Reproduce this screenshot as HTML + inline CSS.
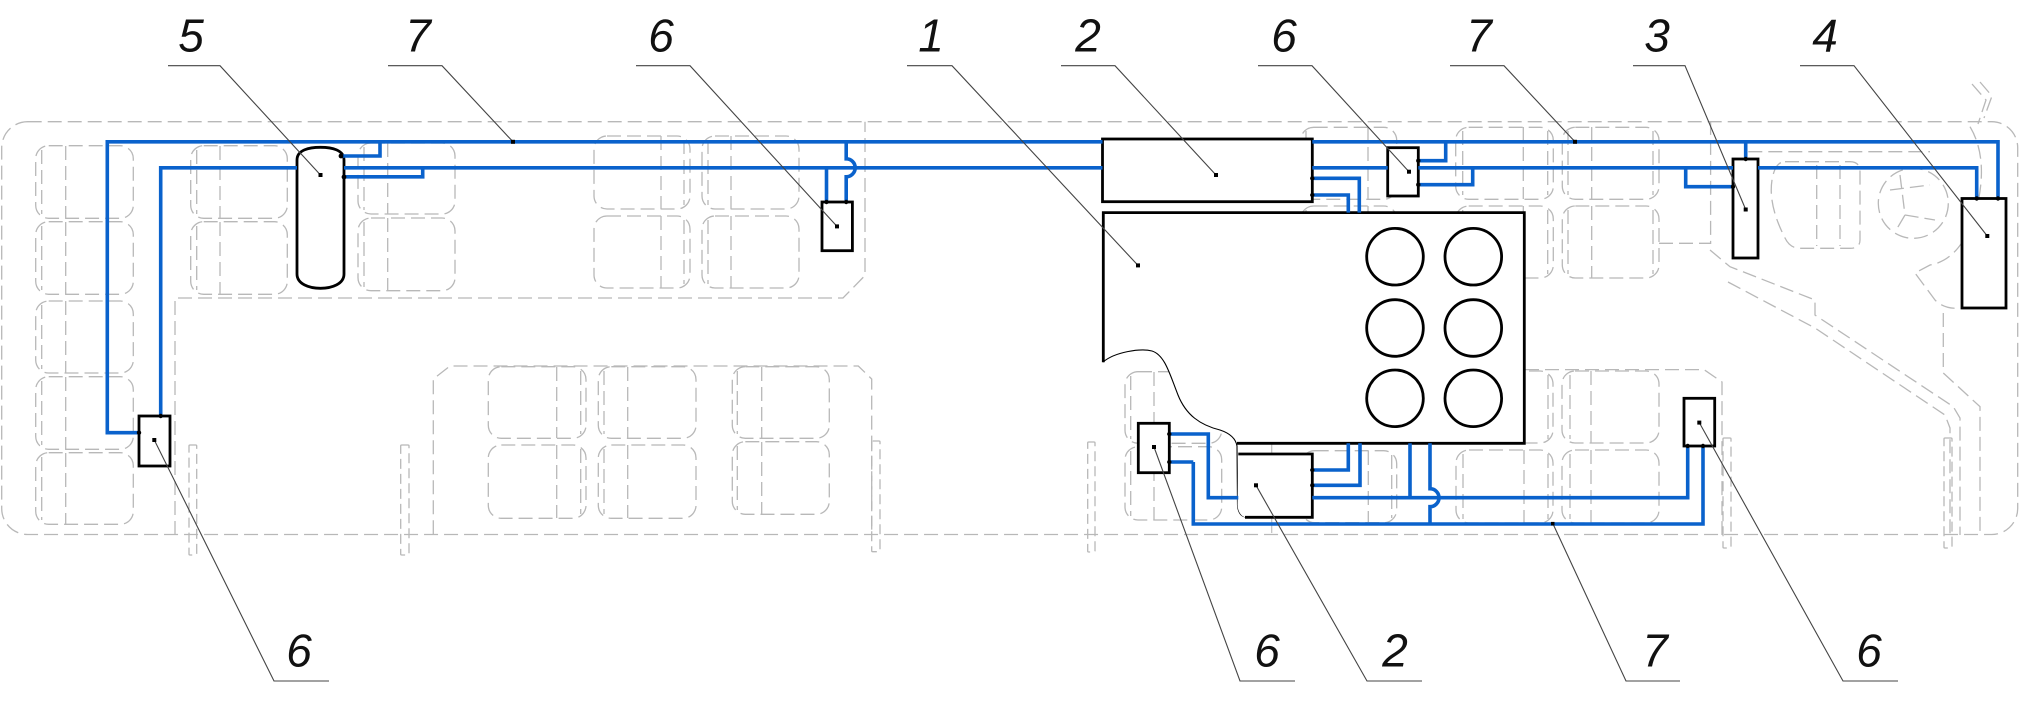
<!DOCTYPE html>
<html><head><meta charset="utf-8"><style>
html,body{margin:0;padding:0;background:#fff;}
svg{display:block;}
.g{fill:none;stroke:#b8b8b8;stroke-width:1.3;stroke-dasharray:14 6;}
.gs{fill:none;stroke:#c0c0c0;stroke-width:1.2;}
.b{fill:none;stroke:#0a62cc;stroke-width:3.6;stroke-linejoin:miter;}
.k{fill:#fff;stroke:#000;stroke-width:2.8;}
.kn{fill:none;stroke:#000;stroke-width:2.8;}
.ld{fill:none;stroke:#444;stroke-width:1.1;}
.t{font-family:"Liberation Sans",sans-serif;font-style:italic;font-size:46px;fill:#111;text-anchor:middle;}
</style></head><body>
<svg width="2020" height="720" viewBox="0 0 2020 720" xmlns="http://www.w3.org/2000/svg">
<rect width="2020" height="720" fill="#fff"/>
<!-- gray bus body -->
<g>
<rect class="g" x="1.7" y="121.7" width="2016" height="412.8" rx="26" ry="26"/>
<path class="g" d="M175,535 V298 H843 L865,275.5 V121.7"/>
<path class="g" d="M433.3,534.3 V379 L450,366 H858.3 L871.7,379 V534.3"/>
<path class="g" d="M1659,243.3 H1710.6 V121.7"/>
<path class="g" d="M1525,369.6 H1704 L1722,382 V535"/>
<!-- seats -->
<g class="g">
<rect x="35.7" y="145.7" width="97.6" height="72.6" rx="13"/>
<rect x="35.7" y="221.7" width="97.6" height="72.6" rx="13"/>
<rect x="35.7" y="301" width="97.6" height="72" rx="13"/>
<rect x="35.7" y="376.7" width="97.6" height="72.6" rx="13"/>
<rect x="35.7" y="452.7" width="97.6" height="71.6" rx="13"/>
<path d="M41.7,150 V214 M65.7,146 V218 M41.7,226 V290 M65.7,222 V294 M41.7,305 V369 M65.7,301 V373 M41.7,381 V445 M65.7,377 V449 M41.7,457 V520 M65.7,453 V524"/>
<rect x="190.7" y="145.7" width="96.6" height="72.6" rx="13"/>
<rect x="190.7" y="221.7" width="96.6" height="72.6" rx="13"/>
<path d="M196.7,150 V214 M220,146 V218 M196.7,226 V290 M220,222 V294"/>
<rect x="358" y="143" width="97" height="71" rx="13"/>
<rect x="358" y="218" width="97" height="72.7" rx="13"/>
<path d="M364,147 V210 M387.7,143 V214 M364,222 V287 M387.7,218 V290"/>
<rect x="594" y="136" width="96" height="73" rx="13"/>
<rect x="594" y="216" width="96" height="72" rx="13"/>
<path d="M661,136 V209 M684,140 V205 M661,216 V288 M684,220 V284"/>
<rect x="702" y="136" width="97" height="73" rx="13"/>
<rect x="702" y="216" width="97" height="72" rx="13"/>
<path d="M708,140 V205 M731,136 V209 M708,220 V284 M731,216 V288"/>
<rect x="488.3" y="366.7" width="97.7" height="71.6" rx="13"/>
<rect x="488.3" y="445" width="97.7" height="73.3" rx="13"/>
<path d="M556.7,367 V438 M580.7,371 V434 M556.7,445 V518 M580.7,449 V514"/>
<rect x="598.3" y="366.7" width="97.7" height="71.6" rx="13"/>
<rect x="598.3" y="445" width="97.7" height="73.3" rx="13"/>
<path d="M604,371 V434 M627.7,367 V438 M604,449 V514 M627.7,445 V518"/>
<rect x="732.3" y="366.7" width="97" height="71.6" rx="13"/>
<rect x="732.3" y="441.7" width="97" height="72.6" rx="13"/>
<path d="M737.3,371 V434 M761.7,367 V438 M737.3,446 V510 M761.7,442 V514"/>
<rect x="1125" y="371.7" width="96.7" height="71.6" rx="13"/>
<rect x="1125" y="446.7" width="96.7" height="73.3" rx="13"/>
<path d="M1130.7,376 V439 M1154,372 V443 M1130.7,451 V516 M1154,447 V520"/>
<rect x="1301.7" y="450.7" width="95" height="72" rx="13"/>
<path d="M1306.7,455 V518 M1368.3,451 V522 M1391.7,455 V518"/>
<rect x="1300.7" y="127.3" width="96" height="72" rx="13"/>
<rect x="1300.7" y="206" width="96" height="72" rx="13"/>
<path d="M1306,131 V195 M1368,127 V199 M1306,210 V274 M1368,206 V278"/>
<rect x="1455.7" y="127.3" width="97.6" height="72" rx="13"/>
<rect x="1455.7" y="206" width="97.6" height="72" rx="13"/>
<path d="M1462.7,131 V195 M1523.3,127 V199 M1547.7,131 V195 M1462.7,210 V274 M1523.3,206 V278 M1547.7,210 V274"/>
<rect x="1562.3" y="127.3" width="96.7" height="72" rx="13"/>
<rect x="1562.3" y="206" width="96.7" height="72" rx="13"/>
<path d="M1568,131 V195 M1591.7,127 V199 M1653,131 V195 M1568,210 V274 M1591.7,206 V278 M1653,210 V274"/>
<rect x="1456" y="371" width="97" height="72" rx="13"/>
<rect x="1456" y="450" width="97" height="73" rx="13"/>
<path d="M1463,375 V439 M1524,371 V443 M1548,375 V439 M1463,454 V519 M1524,450 V523 M1548,454 V519"/>
<rect x="1562" y="371" width="97" height="72" rx="13"/>
<rect x="1562" y="450" width="97" height="73" rx="13"/>
<path d="M1570,375 V439 M1591,371 V443 M1570,454 V519 M1591,450 V523"/>
</g>
<!-- posts -->
<g class="g" style="stroke-dasharray:10 5">
<rect x="189" y="445" width="7.7" height="110" rx="1"/>
<rect x="400.7" y="445" width="8.3" height="110" rx="1"/>
<rect x="871.7" y="441" width="8.3" height="110.7" rx="1"/>
<rect x="1087.7" y="442" width="7.3" height="110" rx="1"/>
<rect x="1723" y="438" width="8" height="110" rx="1"/>
<rect x="1944" y="438" width="8" height="110" rx="1"/>
</g>
<line class="gs" x1="1271.7" y1="443" x2="1271.7" y2="533"/>
<!-- driver area -->
<path class="g" d="M1748.3,151.7 H1930"/>
<path class="g" d="M1785,161.7 H1850 Q1860,161.7 1860,172 V240 Q1860,248.3 1850,248.3 H1800 Q1790,248.3 1785,238 Q1768,205 1772,180 Q1775,161.7 1785,161.7 Z"/>
<path class="g" d="M1816.7,165 V246 M1840,165 V246"/>
<circle class="g" cx="1913.3" cy="203.3" r="35"/>
<path class="g" d="M1900,175 L1905,215 L1935,220 M1905,215 L1895,232 M1890,190 L1930,185"/>
<path class="g" d="M1970,126.7 Q1990,160 1975,215 Q1960,260 1930,265 L1915,273 L1935,300 Q1945,310 1962,308"/>
<path class="g" d="M1943.3,313 V373 L1980,406.7 V535"/>
<path class="g" d="M1710,250 L1730,266.7 L1815,300 V315 L1953.3,406.7 L1960,418 V535"/>
<path class="g" d="M1728,282 L1815,328 L1945,415 L1950,428 V535"/>
<path class="g" d="M1972,84 L1986,100 L1978,124 M1980,82 L1992,96 L1984,118"/>
</g>

<!-- tank 5 -->
<path class="k" d="M297,160 C297,150 309,147.3 320.5,147.3 C332,147.3 344,150 344,160 V274 C344,284 332,288.3 320.5,288.3 C309,288.3 297,284 297,274 Z"/>
<!-- engine 1 -->
<path d="M1102,212.6 H1524 V443.3 H1237 C1236,440 1232,434 1220,430 C1200,425 1186,415 1178,395 C1170,375 1165,355 1152,351 C1140,348 1115,352 1103,362 Z" fill="#fff" stroke="none"/>
<path class="kn" d="M1103.3,362.3 V212.6 H1524.3 V443.3 H1237"/>
<path d="M1103,362 C1115,352 1140,348 1152,351 C1165,355 1170,375 1178,395 C1186,415 1200,425 1220,430 C1232,434 1236,440 1237,446 L1237.5,505 C1238,512 1241,516 1245,517" fill="none" stroke="#000" stroke-width="1.1"/>
<g fill="none" stroke="#000" stroke-width="2.8">
<circle cx="1395" cy="256.7" r="28.3"/>
<circle cx="1473.3" cy="256.7" r="28.3"/>
<circle cx="1395" cy="328" r="28.3"/>
<circle cx="1473.3" cy="328" r="28.3"/>
<circle cx="1395" cy="398.3" r="28.3"/>
<circle cx="1473.3" cy="398.3" r="28.3"/>
</g>
<!-- box 2 bottom -->
<path d="M1238.3,454 H1312.3 V517.3 H1245 C1241,516 1238,512 1237.5,505 Z" fill="#fff"/>
<path class="kn" d="M1238.3,454 H1312.3 V517.3 H1245"/>
<!-- boxes -->
<rect class="k" x="1102.5" y="139" width="209.8" height="62.7"/>
<rect class="k" x="139" y="416" width="31" height="50"/>
<rect class="k" x="822" y="202" width="30.4" height="48.7"/>
<rect class="k" x="1387.7" y="147.7" width="30.6" height="48.3"/>
<rect class="k" x="1733" y="159" width="25" height="99"/>
<rect class="k" x="1962" y="198.5" width="44" height="109.5"/>
<rect class="k" x="1138.3" y="423.3" width="31" height="49.4"/>
<rect class="k" x="1684" y="398.3" width="30.7" height="47.7"/>

<!-- blue pipes -->
<g class="b">
<path d="M1102.5,141.8 H107.3 V432.7 H139"/>
<path d="M1102.5,167.8 H344"/>
<path d="M297,167.8 H160.7 V416"/>
<path d="M341,156 H380 V141.8"/>
<path d="M344,176.8 H422.7 V167.8"/>
<path d="M826.5,202 V167.8"/>
<path d="M846.2,202 V176.8 A9,9 0 0 0 846.2,158.8 V141.8"/>
<path d="M1312.3,141.8 H1998 V198.5"/>
<path d="M1312.3,167.8 H1387.7"/>
<path d="M1418.3,167.8 H1733"/>
<path d="M1758,167.8 H1976.7 V198.5"/>
<path d="M1312.3,178.3 H1359.3 V212.6"/>
<path d="M1312.3,195 H1348.3 V212.6"/>
<path d="M1418.3,160.7 H1445.7 V141.8"/>
<path d="M1418.3,184.7 H1472.7 V167.8"/>
<path d="M1745.7,141.8 V159"/>
<path d="M1685.7,167.8 V186.7 H1733"/>
<path d="M1348.3,443.3 V470 H1312.3"/>
<path d="M1360,443.3 V485.3 H1312.3"/>
<path d="M1410,443.3 V497.7"/>
<path d="M1430,443.3 V488.7 A9,9 0 0 1 1430,506.7 V524"/>
<path d="M1312.3,497.7 H1687.7 V446"/>
<path d="M1193.3,462 V524 H1703 V446"/>
<path d="M1169.3,462 H1193.3"/>
<path d="M1169.3,434 H1208.3 V497.7 H1238.3"/>
</g>
<!-- junction dots -->
<g fill="#000">
<circle cx="341" cy="156" r="2.4"/><circle cx="344" cy="177" r="2.4"/>
<circle cx="139" cy="432.7" r="2.2"/><circle cx="160.7" cy="416" r="2.2"/>
<circle cx="826.5" cy="202" r="2.2"/><circle cx="846.2" cy="202" r="2.2"/>
<circle cx="1312.3" cy="178.3" r="2.2"/><circle cx="1312.3" cy="195" r="2.2"/>
<circle cx="1418.3" cy="160.7" r="2.2"/><circle cx="1418.3" cy="184.7" r="2.2"/>
<circle cx="1745.7" cy="159" r="2.2"/><circle cx="1733" cy="186.7" r="2.2"/>
<circle cx="1976.7" cy="198.5" r="2.2"/><circle cx="1998" cy="198.5" r="2.2"/>
<circle cx="1169.3" cy="434" r="2.2"/><circle cx="1169.3" cy="462" r="2.2"/>
<circle cx="1312.3" cy="470" r="2.2"/><circle cx="1312.3" cy="485.3" r="2.2"/>
<circle cx="1687.7" cy="446" r="2.2"/><circle cx="1703" cy="446" r="2.2"/>
</g>

<!-- leaders -->
<g class="ld">
<path d="M168,65.7 H220 L320.5,175"/>
<path d="M388,65.7 H442 L513,141.8"/>
<path d="M636,65.7 H690 L837,226.4"/>
<path d="M907,65.7 H952 L1138,265.4"/>
<path d="M1061,65.7 H1115 L1216,175"/>
<path d="M1258,65.7 H1312 L1409,171.7"/>
<path d="M1450,65.7 H1504 L1575,141.8"/>
<path d="M1633,65.7 H1685 L1745.7,209.5"/>
<path d="M1800,65.7 H1854 L1987.3,236"/>
<path d="M329,681 H274 L154.3,440"/>
<path d="M1295,681 H1240 L1154,447"/>
<path d="M1422,681 H1367 L1256,485.3"/>
<path d="M1680,681 H1626 L1553,523.9"/>
<path d="M1898,681 H1843 L1699.3,422.6"/>
</g>
<g fill="#000">
<rect x="318.5" y="173" width="4" height="4"/>
<rect x="511" y="139.8" width="4" height="4"/>
<rect x="835" y="224.4" width="4" height="4"/>
<rect x="1136" y="263.4" width="4" height="4"/>
<rect x="1214" y="173" width="4" height="4"/>
<rect x="1407" y="169.7" width="4" height="4"/>
<rect x="1573" y="139.8" width="4" height="4"/>
<rect x="1743.7" y="207.5" width="4" height="4"/>
<rect x="1985.3" y="234" width="4" height="4"/>
<rect x="152.3" y="438" width="4" height="4"/>
<rect x="1152" y="445" width="4" height="4"/>
<rect x="1254" y="483.3" width="4" height="4"/>
<rect x="1551" y="521.9" width="3.5" height="3.5"/>
<rect x="1697.3" y="420.6" width="4" height="4"/>
</g>
<!-- labels -->
<g class="t">
<text x="191" y="51.5">5</text>
<text x="418" y="51.5">7</text>
<text x="661" y="51.5">6</text>
<text x="931" y="51.5">1</text>
<text x="1088" y="51.5">2</text>
<text x="1284" y="51.5">6</text>
<text x="1479" y="51.5">7</text>
<text x="1657" y="51.5">3</text>
<text x="1825" y="51.5">4</text>
<text x="299" y="666.5">6</text>
<text x="1267" y="666.5">6</text>
<text x="1395" y="666.5">2</text>
<text x="1655" y="666.5">7</text>
<text x="1869" y="666.5">6</text>
</g>
</svg>
</body></html>
